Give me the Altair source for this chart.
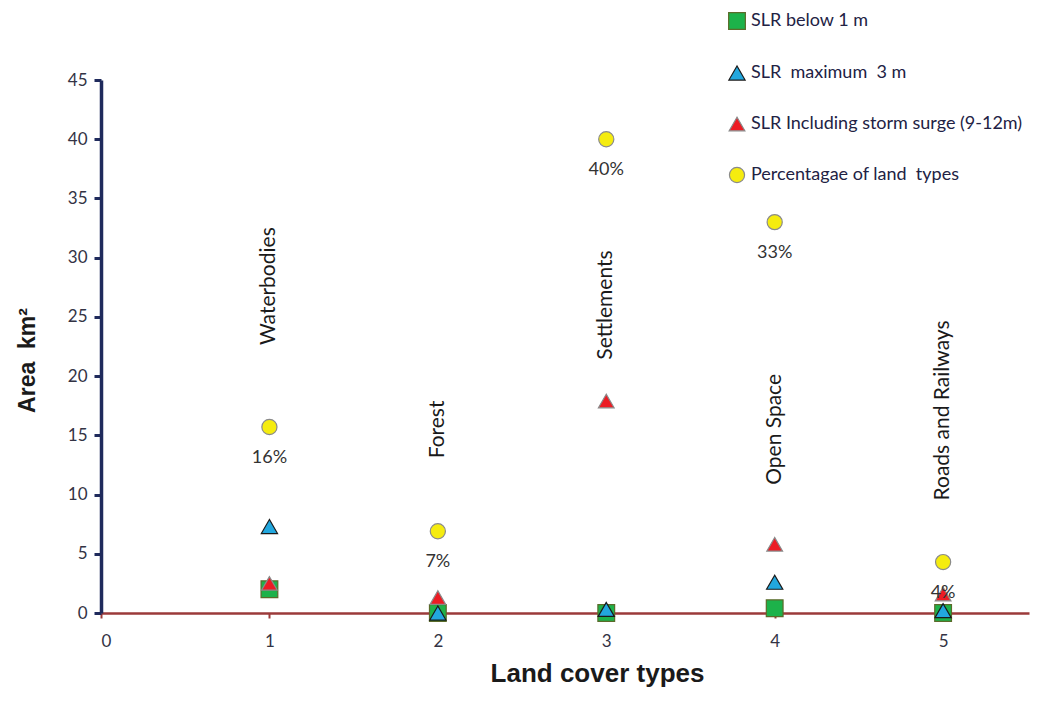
import altair as alt
import pandas as pd

# ---- data ----
land_types = ["Waterbodies", "Forest", "Settlements", "Open Space", "Roads and Railways"]
x_pos = [1, 2, 3, 4, 5]
pct_area = [15.7, 6.9, 40.0, 33.0, 4.3]
pct_labels = ["16%", "7%", "40%", "33%", "4%"]
slr_below_1m = [2.0, 0.0, 0.0, 0.4, 0.0]
slr_max_3m = [7.3, 0.0, 0.3, 2.6, 0.2]
slr_storm = [2.5, 1.3, 17.9, 5.8, 1.6]
name_label_y = [27.6, 15.5, 26.0, 15.5, 17.1]

series_names = [
    "SLR below 1 m",
    "SLR\u00a0 maximum\u00a0 3 m",
    "SLR Including storm surge (9-12m)",
    "Percentagae of land\u00a0 types",
]

rows = []
for s, vals in [
    (series_names[3], pct_area),
    (series_names[0], slr_below_1m),
    (series_names[1], slr_max_3m),
    (series_names[2], slr_storm),
]:
    for xi, v in zip(x_pos, vals):
        rows.append({"series": s, "x": xi, "y": v})
df = pd.DataFrame(rows)
df["order"] = df["series"].map({series_names[3]: 0, series_names[0]: 1, series_names[1]: 2, series_names[2]: 3})

pct_df = pd.DataFrame({"x": x_pos, "y": pct_area, "label": pct_labels})
name_df = pd.DataFrame({"x": x_pos, "y": name_label_y, "name": land_types})

FONT = "Lato"
TFONT = "Liberation Sans"

xscale = alt.Scale(domain=[0, 5.51], nice=False, zero=False)
yscale = alt.Scale(domain=[0, 45], nice=False)

points = alt.Chart(df).mark_point(filled=True, opacity=1, strokeWidth=1.2).encode(
    x=alt.X("x:Q", scale=xscale, axis=alt.Axis(
        values=[0, 1, 2, 3, 4, 5], format="d", grid=False,
        domainColor="#9b3a3a", domainWidth=2.5,
        tickColor="#9b3a3a", tickSize=5, tickWidth=2,
        labelFont=FONT, labelFontSize=17, labelColor="#333344", labelPadding=15,
        title="Land cover types", titleFont=TFONT, titleFontSize=26, titleFontWeight="bold",
        titleColor="#1a1a1a", titleX=496, titleY=60, titleAlign="center", titleBaseline="middle",
        titleAnchor="start")),
    y=alt.Y("y:Q", scale=yscale, axis=alt.Axis(
        values=list(range(0, 46, 5)), grid=False,
        domainColor="#1f2a5c", domainWidth=3.5,
        tickColor="#1f2a5c", tickSize=7, tickWidth=3,
        labelFont=FONT, labelFontSize=17, labelColor="#333344", labelPadding=7,
        title="Area\u00a0 km²", titleFont=TFONT, titleFontSize=23, titleFontWeight="bold",
        titleColor="#1a1a1a", titleX=-74, titleY=280, titleAngle=270,
        titleAlign="center", titleBaseline="middle", titleAnchor="start")),
    color=alt.Color("series:N", scale=alt.Scale(
        domain=series_names,
        range=["#1db24a", "#22a7de", "#ec1c24", "#f5ec0f"]),
        legend=alt.Legend(title=None, orient="none", legendX=627, legendY=-68,
                          labelFont=FONT, labelFontSize=18, labelColor="#222244",
                          rowPadding=31, padding=0, symbolSize=150, labelLimit=400,
                          symbolStrokeWidth=1.2, labelOffset=5)),
    shape=alt.Shape("series:N", scale=alt.Scale(
        domain=series_names,
        range=["square", "triangle-up", "triangle-up", "circle"])),
    stroke=alt.Stroke("series:N", scale=alt.Scale(
        domain=series_names,
        range=["#5b6b2a", "#1a1a1a", "#8a8a8a", "#8a8a8a"])),
    size=alt.Size("series:N", scale=alt.Scale(
        domain=series_names, range=[280, 230, 140, 260]), legend=None),
    order=alt.Order("order:Q"),
)

pct_text = alt.Chart(pct_df).mark_text(
    font=FONT, fontSize=18, color="#333333", dy=31, baseline="middle", align="center"
).encode(x=alt.X("x:Q", scale=xscale), y=alt.Y("y:Q", scale=yscale), text="label:N")

name_text = alt.Chart(name_df).mark_text(
    font=FONT, fontSize=21, color="#1a1a1a", angle=270, baseline="middle", align="center", dx=0
).encode(x=alt.X("x:Q", scale=xscale), y=alt.Y("y:Q", scale=yscale), text="name:N")

chart = alt.layer(points, pct_text, name_text).properties(
    width=928, height=533,
    autosize=alt.AutoSizeParams(type="none"),
    padding={"left": 93, "top": 72, "right": 2, "bottom": 75},
    background="white",
).configure_view(strokeWidth=0)

chart.save("out.html", embed_options={"renderer": "svg", "actions": False})
